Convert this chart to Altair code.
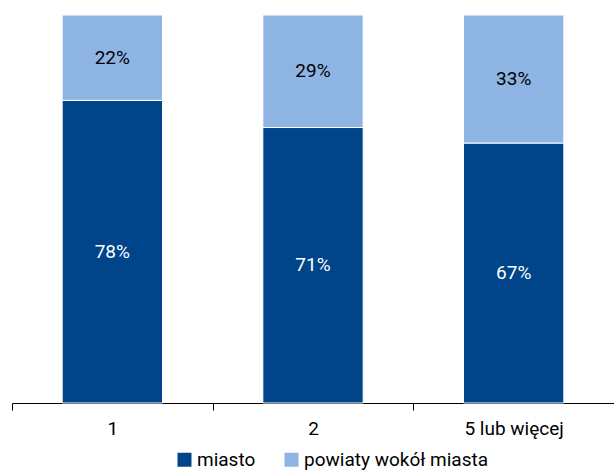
import altair as alt
import pandas as pd

categories = ["1", "2", "5 lub więcej"]
series = ["miasto", "powiaty wokół miasta"]
miasto = [78, 71, 67]
powiaty = [22, 29, 33]
colors = ["#00448A", "#8EB4E3"]
label_colors = ["white", "black"]

rows = []
for i, c in enumerate(categories):
    rows.append({"kat": c, "seria": series[0], "val": miasto[i], "ord": 0, "lab": f"{miasto[i]}%"})
    rows.append({"kat": c, "seria": series[1], "val": powiaty[i], "ord": 1, "lab": f"{powiaty[i]}%"})
df = pd.DataFrame(rows)

FONT = "Roboto"

x = alt.X("kat:N", sort=categories, title=None,
          scale=alt.Scale(paddingInner=0.5, paddingOuter=0.25),
          axis=alt.Axis(labelAngle=0, labelFont=FONT, labelFontSize=19, labelColor="#000000",
                        domainColor="#000000", tickColor="#000000", tickSize=7,
                        bandPosition=0, tickOffset=-50.25, labelOffset=50.25,
                        labelAlign="center",
                        labelPadding=9, domainWidth=1))

bars = alt.Chart(df).mark_bar(stroke="white", strokeWidth=1).encode(
    x=x,
    y=alt.Y("val:Q", stack="zero", scale=alt.Scale(domain=[0, 100]), axis=None),
    color=alt.Color("seria:N", sort=series,
                    scale=alt.Scale(domain=series, range=colors),
                    legend=alt.Legend(title=None, orient="none", direction="horizontal",
                                      legendX=163, legendY=435,
                                      symbolType="square", symbolSize=196,
                                      symbolStrokeWidth=0, symbolOffset=0,
                                      labelFont=FONT, labelFontSize=19, labelColor="#000000",
                                      labelOffset=3, columnPadding=26, labelLimit=400)),
    order=alt.Order("ord:Q"),
)

texts = alt.Chart(df).mark_text(font=FONT, fontSize=19, baseline="middle").encode(
    x=alt.X("kat:N", sort=categories),
    y=alt.Y("val:Q", stack="zero", bandPosition=0.5),
    text="lab:N",
    order=alt.Order("ord:Q"),
    color=alt.Color("seria:N", scale=alt.Scale(domain=series, range=label_colors), legend=None),
)

chart = alt.layer(bars, texts).resolve_scale(color="independent").properties(
    width=602, height=388,
    autosize=alt.AutoSizeParams(type="none"),
    padding={"left": 12, "top": 15, "right": 0, "bottom": 67},
).configure_view(stroke=None)

chart.save("out.html", embed_options={"renderer": "svg", "actions": False})
